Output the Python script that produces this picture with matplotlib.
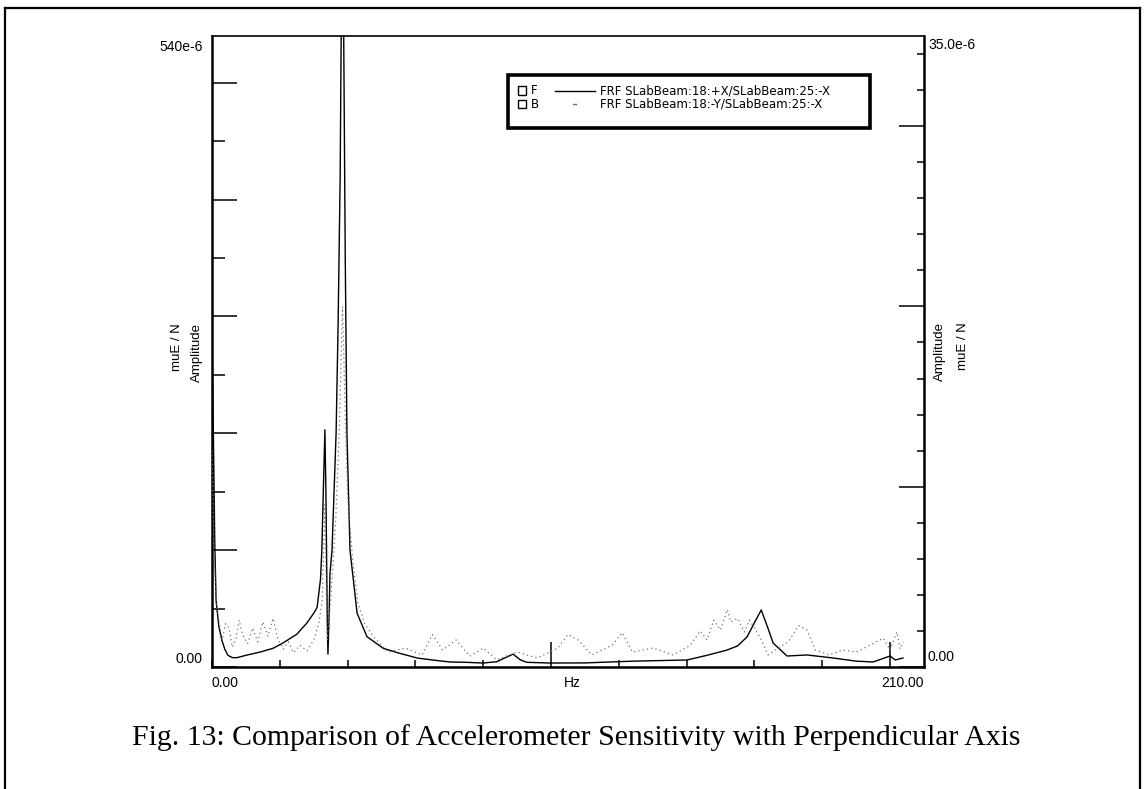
import numpy as np
import matplotlib
matplotlib.use("Agg")
import matplotlib.pyplot as plt
import matplotlib.patches as mpatches
from matplotlib.lines import Line2D
from matplotlib.ticker import MultipleLocator, FixedLocator

# figure size in pixels (dpi 100)
W, H = 1145, 789

# FRF F: SLabBeam:18:+X / SLabBeam:25:-X  (left axis, muE/N)
f_hz = [0, 0.4, 0.8, 1.2, 2.0, 2.9, 3.8, 4.7, 6, 7.4, 10, 14.2, 18, 20.9, 25, 28,
        30, 31, 32, 32.4, 33, 33.3, 33.6, 34.0, 34.2, 34.5, 34.8, 35.4, 36, 36.6,
        37.2, 37.8, 38.3, 38.8, 39.3, 39.8, 40.7, 42.8, 45.7, 50.5, 55, 60.5, 65,
        70.2, 75, 79.9, 84, 86.5, 88.8, 91, 92.9, 99.7, 110, 124.2, 140.1, 146,
        151.9, 155, 157.8, 160, 162.0, 164, 165.5, 169.6, 175.5, 183.2, 190, 195,
        200, 201.5, 203.8]
f_amp = [280, 200, 110, 57, 35, 23, 15, 10, 8, 8, 10, 12.8, 16, 20.5, 28, 37.7,
         46, 51, 75, 100, 170, 203, 150, 40, 11, 40, 80, 100, 150, 200,
         294, 420, 620, 560, 350, 200, 100, 46, 26, 16, 12, 7.7, 6,
         4.3, 4, 3.4, 4.5, 8, 11, 6, 4, 3.4, 3.5, 5, 6, 10,
         14.5, 18, 25.7, 38, 48.8, 33, 20.5, 9.4, 10.3, 7.7, 5, 4.3,
         9.4, 6, 7.7]

# FRF B: SLabBeam:18:-Y / SLabBeam:25:-X  (right axis, muE/N)
b_hz = [0, 0.6, 1.2, 2, 3, 4, 5, 6, 7, 8, 9, 10.5, 12, 13.5, 15, 16.5, 18, 19.5,
        21, 22.5, 24, 26, 28, 30, 31.5, 32.5, 33.3, 34, 35, 36.5, 37.5, 38.5,
        39.3, 40, 41.5, 43, 45, 48, 52, 57, 62, 65, 68, 72, 76, 80, 84, 90,
        96, 102, 105, 108, 112, 118, 121, 124, 130, 136, 141, 144, 146, 148,
        150, 152, 153, 155, 157, 158.5, 160, 162, 164, 167, 170, 173, 175.5,
        178, 182, 186, 190, 194, 198, 200, 202, 203, 204]
b_amp = [12.0, 6.5, 3.7, 2.6, 1.5, 2.4, 2.16, 1.1, 1.5, 2.6, 1.8, 1.3, 2.16, 1.4,
         2.5, 1.7, 2.7, 1.5, 1.0, 1.4, 0.8, 1.2, 0.9, 1.5, 2.4, 3.7, 9.0, 1.5,
         3.7, 8.2, 13.0, 20.0, 14.0, 9.5, 5.9, 3.6, 2.4, 1.6, 0.83, 1.05, 0.67,
         1.8, 0.94, 1.5, 0.6, 1.05, 0.4, 0.83, 0.5, 1.05, 1.8, 1.5, 0.67, 1.2,
         1.9, 0.83, 1.05, 0.67, 1.2, 2.0, 1.5, 2.6, 2.05, 3.2, 2.5, 2.7, 1.94,
         2.6, 2.16, 1.5, 0.67, 1.05, 1.4, 2.3, 2.05, 0.94, 0.67, 0.94, 0.83,
         1.2, 1.6, 0.94, 1.94, 1.0, 1.4]

legend_labels = ["FRF SLabBeam:18:+X/SLabBeam:25:-X",
                 "FRF SLabBeam:18:-Y/SLabBeam:25:-X"]
caption = "Fig. 13: Comparison of Accelerometer Sensitivity with Perpendicular Axis"


def fx(x):
    return x / W


def fy(y):
    return 1 - y / H


plt.rcParams['font.family'] = ['Liberation Sans', 'DejaVu Sans']

fig = plt.figure(figsize=(W / 100, H / 100), dpi=100)
ax = fig.add_axes([fx(212), fy(667), fx(924) - fx(212), fy(36) - fy(667)])
ax2 = ax.twinx()

ax.plot(f_hz, np.array(f_amp) * 1e-6, color='black', lw=1.0)
ax2.plot(b_hz, np.array(b_amp) * 1e-6, color='0.45', lw=0.9, ls=(0, (1, 2.5)))

ax.set_xlim(0, 210)
ax.set_ylim(0, 540e-6)
ax2.set_ylim(0, 35e-6)

# ticks: inward, long at round values, short in between
ax.xaxis.set_major_locator(FixedLocator([100, 200]))
ax.xaxis.set_minor_locator(MultipleLocator(20))
ax.yaxis.set_major_locator(MultipleLocator(100e-6))
ax.yaxis.set_minor_locator(MultipleLocator(50e-6))
ax2.yaxis.set_major_locator(MultipleLocator(10e-6))
ax2.yaxis.set_minor_locator(MultipleLocator(2e-6))

ax.tick_params(axis='x', which='major', direction='in', length=18, width=1.1,
               top=False, labelbottom=False)
ax.tick_params(axis='x', which='minor', direction='in', length=5, width=1.1, top=False)
ax.tick_params(axis='y', which='major', direction='in', length=18, width=1.1,
               right=False, labelleft=False)
ax.tick_params(axis='y', which='minor', direction='in', length=9.5, width=1.1, right=False)
ax2.tick_params(axis='y', which='major', direction='in', length=18, width=1.1,
                labelright=False)
ax2.tick_params(axis='y', which='minor', direction='in', length=5, width=1.1)

for sp in ['left', 'bottom']:
    ax.spines[sp].set_linewidth(1.8)
ax.spines['top'].set_linewidth(1.2)
ax2.spines['right'].set_linewidth(1.8)
ax2.spines['top'].set_visible(False)
ax2.spines['left'].set_visible(False)
ax2.spines['bottom'].set_visible(False)

# axis end labels
fs = 10
fig.text(fx(203), fy(47), "540e-6", ha='right', va='center', fontsize=fs)
fig.text(fx(203), fy(659), "0.00", ha='right', va='center', fontsize=fs)
fig.text(fx(928), fy(45), "35.0e-6", ha='left', va='center', fontsize=fs)
fig.text(fx(928), fy(657), "0.00", ha='left', va='center', fontsize=fs)
fig.text(fx(212), fy(683), "0.00", ha='left', va='center', fontsize=fs)
fig.text(fx(572), fy(683), "Hz", ha='center', va='center', fontsize=fs)
fig.text(fx(924), fy(683), "210.00", ha='right', va='center', fontsize=fs)

# y axis titles
fig.text(fx(177), fy(323), "muE / N", rotation=90, ha='center', va='top', fontsize=9.5)
fig.text(fx(197), fy(323), "Amplitude", rotation=90, ha='center', va='top', fontsize=9.5)
fig.text(fx(940), fy(322), "Amplitude", rotation=90, ha='center', va='top', fontsize=9.5)
fig.text(fx(963), fy(322), "muE / N", rotation=90, ha='center', va='top', fontsize=9.5)

# legend box
fig.add_artist(mpatches.Rectangle((fx(508), fy(128)), fx(870) - fx(508), fy(75) - fy(128),
                                  transform=fig.transFigure, fill=False,
                                  edgecolor='black', linewidth=2.6))
lfs = 8.5
row_y = [90.5, 104]
for yy, tag, lab in zip(row_y, ["F", "B"], legend_labels):
    fig.add_artist(mpatches.Rectangle((fx(518), fy(yy + 4)), fx(8), fy(0) - fy(8),
                                      transform=fig.transFigure, fill=False,
                                      edgecolor='black', linewidth=1.0))
    fig.text(fx(531), fy(yy), tag, ha='left', va='center', fontsize=lfs,
             family='DejaVu Sans')
    fig.text(fx(600), fy(yy), lab, ha='left', va='center', fontsize=lfs,
             family='DejaVu Sans')
fig.add_artist(Line2D([fx(555), fx(595)], [fy(row_y[0]), fy(row_y[0])], color='black',
                      lw=1.0, transform=fig.transFigure))
fig.add_artist(Line2D([fx(573), fx(576)], [fy(row_y[1]), fy(row_y[1])], color='0.45',
                      lw=1.0, transform=fig.transFigure))

# page frame
for xs, ys in [([5, 5], [8, 789]), ([5, 1140], [8, 8]), ([1140, 1140], [8, 789])]:
    fig.add_artist(Line2D([fx(x) for x in xs], [fy(y) for y in ys], color='black',
                          lw=1.6, transform=fig.transFigure))

fig.text(fx(576), fy(738), caption, ha='center', va='center', fontsize=21.4,
         family=['Liberation Serif', 'DejaVu Serif'])

fig.savefig("out.png", dpi=100)
